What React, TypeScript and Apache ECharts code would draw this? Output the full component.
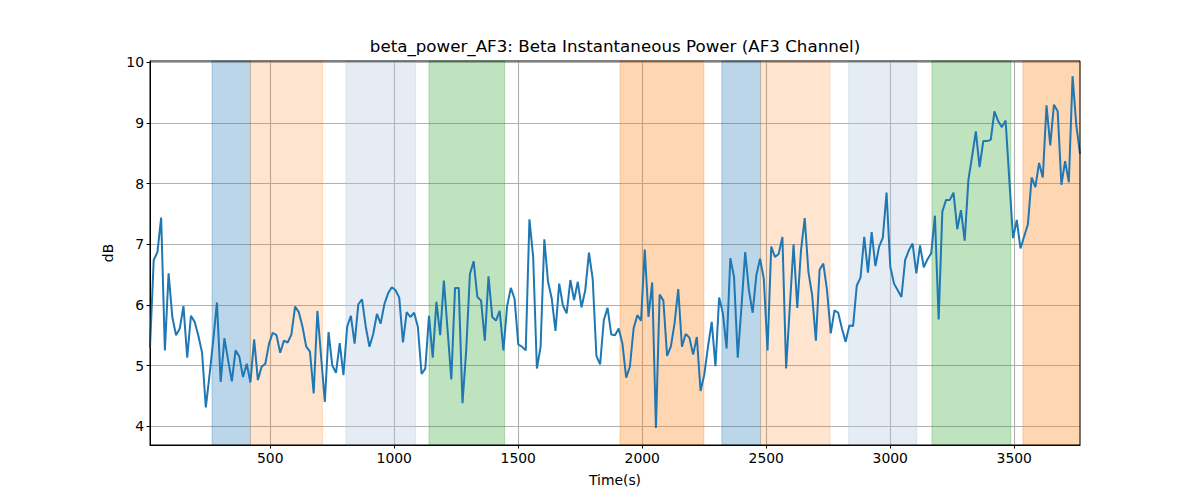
import React, { useEffect, useRef } from "react";
import * as echarts from "echarts";

// ---- data ----
const sampleStart = 15; // seconds, first sample
const sampleStep = 15; // seconds between samples

const betaPowerDb: number[] = [
  5.30, 6.74, 6.87, 7.44, 5.25, 6.52, 5.80, 5.50, 5.61, 5.98,
  5.13, 5.82, 5.72, 5.49, 5.21, 4.31, 4.84, 5.42, 6.04, 4.73,
  5.45, 5.09, 4.74, 5.25, 5.15, 4.81, 5.03, 4.72, 5.43, 4.76,
  4.98, 5.03, 5.36, 5.54, 5.50, 5.21, 5.41, 5.38, 5.51, 5.97,
  5.88, 5.64,
  5.31, 5.23, 4.54, 5.90, 5.14, 4.40, 5.55, 5.00, 4.88, 5.37,
  4.84, 5.64, 5.82, 5.36, 6.01, 6.09, 5.64, 5.31, 5.52, 5.85,
  5.69, 6.01, 6.19, 6.29, 6.24, 6.12, 5.38, 5.88, 5.80, 5.87,
  5.64, 4.86, 4.95, 5.82, 5.13, 6.05, 5.50, 6.40, 5.58,
  4.77, 6.28, 6.28, 4.38, 5.25, 6.51, 6.72, 6.13, 6.07, 5.41,
  6.47, 5.80, 5.74, 5.90, 5.25, 5.98, 6.28, 6.10, 5.35, 5.31,
  5.25, 7.41,
  6.79, 4.95, 5.31, 7.08, 6.38, 6.10, 5.57, 6.35, 5.99, 5.86,
  6.41, 6.08, 6.38, 5.96, 6.24, 6.86, 6.43, 5.16, 5.02, 5.75,
  5.95, 5.51, 5.50,
  5.61, 5.36, 4.80, 4.98, 5.61, 5.83, 5.74, 6.91, 5.80, 6.37,
  3.97, 6.17, 6.07, 5.16, 5.31, 5.69, 6.26, 5.31, 5.52, 5.46,
  5.18, 5.47, 4.58, 4.85, 5.31, 5.72, 4.99, 6.12, 5.86, 5.28,
  6.77, 6.46, 5.13, 5.97, 6.87, 6.24, 5.87, 6.49, 6.76, 6.43,
  5.25,
  6.96, 6.79, 6.84, 7.12, 4.95, 5.97, 7.00, 5.95, 6.90, 7.43,
  6.54, 6.16, 5.41, 6.58, 6.68, 6.24, 5.53, 5.91, 5.87, 5.61,
  5.39, 5.66, 5.65, 6.32, 6.45, 7.12, 6.53, 7.20, 6.64, 6.96,
  7.11, 7.85, 6.63, 6.35, 6.24, 6.13, 6.74, 6.90, 7.01, 6.52,
  6.98, 6.62,
  6.75, 6.85, 7.47, 5.76, 7.54, 7.73, 7.73, 7.85, 7.25, 7.56,
  7.06, 8.06, 8.45, 8.86, 8.27, 8.70, 8.70, 8.72, 9.19, 9.03,
  8.93, 9.04, 8.06, 7.10, 7.40, 6.93, 7.13, 7.33, 8.10, 7.94,
  8.34, 8.10, 9.29, 8.63, 9.30, 9.19, 7.98, 8.37, 8.02, 9.77,
  8.97, 8.49,
];

// shaded intervals [start, end] in seconds and their kind
const bandRanges: [number, number][] = [
  [265, 420],
  [420, 711],
  [805, 1086],
  [1140, 1445],
  [1910, 2248],
  [2321, 2477],
  [2477, 2757],
  [2832, 3107],
  [3168, 3486],
  [3535, 3765],
];
const bandKinds: string[] = [
  "blue", "lightOrange", "steel", "green", "orange",
  "blue", "lightOrange", "steel", "green", "orange",
];

const xTicks = [500, 1000, 1500, 2000, 2500, 3000, 3500];
const yTicks = [4, 5, 6, 7, 8, 9, 10];

const titleText = "beta_power_AF3: Beta Instantaneous Power (AF3 Channel)";
const xName = "Time(s)";
const yName = "dB";

// ---- styles ----
const kindColor: Record<string, string> = {
  blue: "rgba(31,119,180,0.3)",
  lightOrange: "rgba(255,127,14,0.2)",
  orange: "rgba(255,127,14,0.32)",
  steel: "rgba(176,196,222,0.33)",
  green: "rgba(44,160,44,0.3)",
};

const FONT = "DejaVu Sans";

export default function App() {
  const ref = useRef<HTMLDivElement>(null);

  useEffect(() => {
    if (!ref.current) return;
    const chart = echarts.init(ref.current, undefined, { renderer: "svg" });

    const lineData = betaPowerDb.map((v, i) => [sampleStart + i * sampleStep, v]);
    const xMin = sampleStart;
    const xMax = sampleStart + (betaPowerDb.length - 1) * sampleStep;

    const markData = bandRanges.map((r, i) => [
      {
        xAxis: r[0],
        itemStyle: {
          color: kindColor[bandKinds[i]],
          borderColor: kindColor[bandKinds[i]],
          borderWidth: 1,
        },
      },
      { xAxis: r[1] },
    ]);

    chart.setOption({
      animation: false,
      backgroundColor: "#ffffff",
      grid: {
        left: 150,
        top: 61,
        width: 930,
        height: 384,
        show: true,
        borderColor: "#000000",
        borderWidth: 1,
        backgroundColor: "transparent",
        z: 10,
      },
      graphic: [
        {
          type: "text",
          x: 615,
          y: 46,
          style: {
            text: titleText,
            align: "center",
            verticalAlign: "middle",
            fontFamily: FONT,
            fontSize: 16.7,
            fill: "#000000",
          },
        },
      ],
      xAxis: {
        type: "value",
        min: xMin,
        max: xMax,
        minInterval: 500,
        maxInterval: 500,
        name: xName,
        nameLocation: "middle",
        nameGap: 28,
        nameTextStyle: { fontFamily: FONT, fontSize: 13.9, color: "#000" },
        axisLine: { show: true, onZero: false, lineStyle: { color: "#000", width: 1 } },
        axisTick: {
          show: true,
          length: 3.5,
          customValues: xTicks,
          lineStyle: { color: "#000", width: 1 },
        },
        axisLabel: {
          customValues: xTicks,
          margin: 6,
          fontFamily: FONT,
          fontSize: 13.9,
          color: "#000",
          formatter: (v: number) => String(v),
        },
        splitLine: { show: true, lineStyle: { color: "#b0b0b0", width: 1.1 } },
      },
      yAxis: {
        type: "value",
        min: 3.69,
        max: 10.02,
        minInterval: 1,
        maxInterval: 1,
        name: yName,
        nameLocation: "middle",
        nameGap: 34,
        nameTextStyle: { fontFamily: FONT, fontSize: 13.9, color: "#000" },
        axisLine: { show: true, onZero: false, lineStyle: { color: "#000", width: 1 } },
        axisTick: {
          show: true,
          length: 3.5,
          customValues: yTicks,
          lineStyle: { color: "#000", width: 1 },
        },
        axisLabel: {
          customValues: yTicks,
          margin: 6,
          fontFamily: FONT,
          fontSize: 13.9,
          color: "#000",
          formatter: (v: number) => String(v),
        },
        splitLine: { show: true, lineStyle: { color: "#b0b0b0", width: 1.1 } },
      },
      series: [
        {
          type: "line",
          name: "bands",
          data: [],
          z: 1,
          silent: true,
          markArea: { silent: true, data: markData },
        },
        {
          type: "line",
          name: "beta_power_AF3",
          data: lineData,
          z: 3,
          showSymbol: false,
          symbol: "none",
          lineStyle: { color: "#1f77b4", width: 2 },
          itemStyle: { color: "#1f77b4" },
        },
      ],
    });

    return () => chart.dispose();
  }, []);

  return (
    <div
      ref={ref}
      style={{ position: "fixed", left: 0, top: 0, width: 1200, height: 500 }}
    />
  );
}
